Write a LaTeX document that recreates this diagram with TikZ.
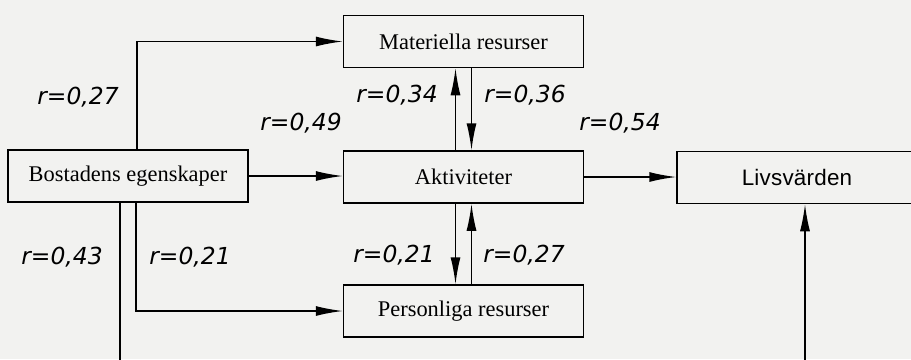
\documentclass[tikz,border=0pt]{standalone}
\usepackage{fontspec}
\setmainfont{Liberation Serif}
\newfontfamily\rfont{DejaVu Sans}
\newfontfamily\livfont[LetterSpace=1]{Liberation Sans}
\usepackage{tikz}
\usetikzlibrary{arrows.meta}
\usetikzlibrary{positioning}
\definecolor{paper}{RGB}{242,242,240}

\begin{document}
\begin{tikzpicture}[x=1bp, y=-1bp, line width=1.5bp,
    box/.style={draw, fill=paper, minimum width=240bp, minimum height=52bp, inner sep=0pt, font=\fontsize{22.5}{24}\selectfont},
    rlabel/.style={inner sep=0pt, font=\rfont\itshape\fontsize{23.5}{26}\selectfont},
    arr/.style={-{Latex[length=27bp, width=10bp]}}]
        \useasboundingbox (0,0) rectangle (911,359);
        \fill[paper] (0,0) rectangle (911,359);
        \clip (0,0) rectangle (911,359);

        \node[box] (bost) at (128, 176) {Bostadens egenskaper};

        \node[box] (mat) at (463.5, 41.5) {Materiella resurser};

        \node[box] (akt) at (463.5, 177) {Aktiviteter};

        \node[box] (pers) at (463.5, 311) {Personliga resurser};

        \node[box, font=\livfont\fontsize{22.5}{24}\selectfont] (liv) at (797, 177.5) {Livsvärden};

        \draw[arr] ([xshift=9bp]bost.north) |- (mat.west);
        \draw[arr] (bost.east) -- (bost.east -| akt.west);
        \draw[arr] ([xshift=8bp]bost.south) |- (pers.west);
        \draw[arr] ([xshift=-8bp]bost.south) -- ++(0,210) -| ([xshift=8bp]liv.south);
        \draw[arr] (akt.east) -- (akt.east -| liv.west);

        \draw[arr] ([xshift=-8bp]akt.north) -- ([xshift=-8bp]mat.south);
        \draw[arr] ([xshift=8bp]mat.south) -- ([xshift=8bp]akt.north);
        \draw[arr] ([xshift=-8bp]akt.south) -- ([xshift=-8bp]pers.north);
        \draw[arr] ([xshift=8bp]pers.north) -- ([xshift=8bp]akt.south);

        \node[rlabel] (r1) at (78, 97) {r=0,27};
        \node[rlabel] (r2) at (301, 123) {r=0,49};
        \node[rlabel] (r3) at (397, 95) {r=0,34};
        \node[rlabel] (r4) at (525, 95) {r=0,36};
        \node[rlabel] (r5) at (620, 123) {r=0,54};
        \node[rlabel] (r6) at (62, 257) {r=0,43};
        \node[rlabel] (r7) at (190, 257) {r=0,21};
        \node[rlabel] (r8) at (394, 255) {r=0,21};
        \node[rlabel] (r9) at (524, 255) {r=0,27};
      \end{tikzpicture}
\end{document}
